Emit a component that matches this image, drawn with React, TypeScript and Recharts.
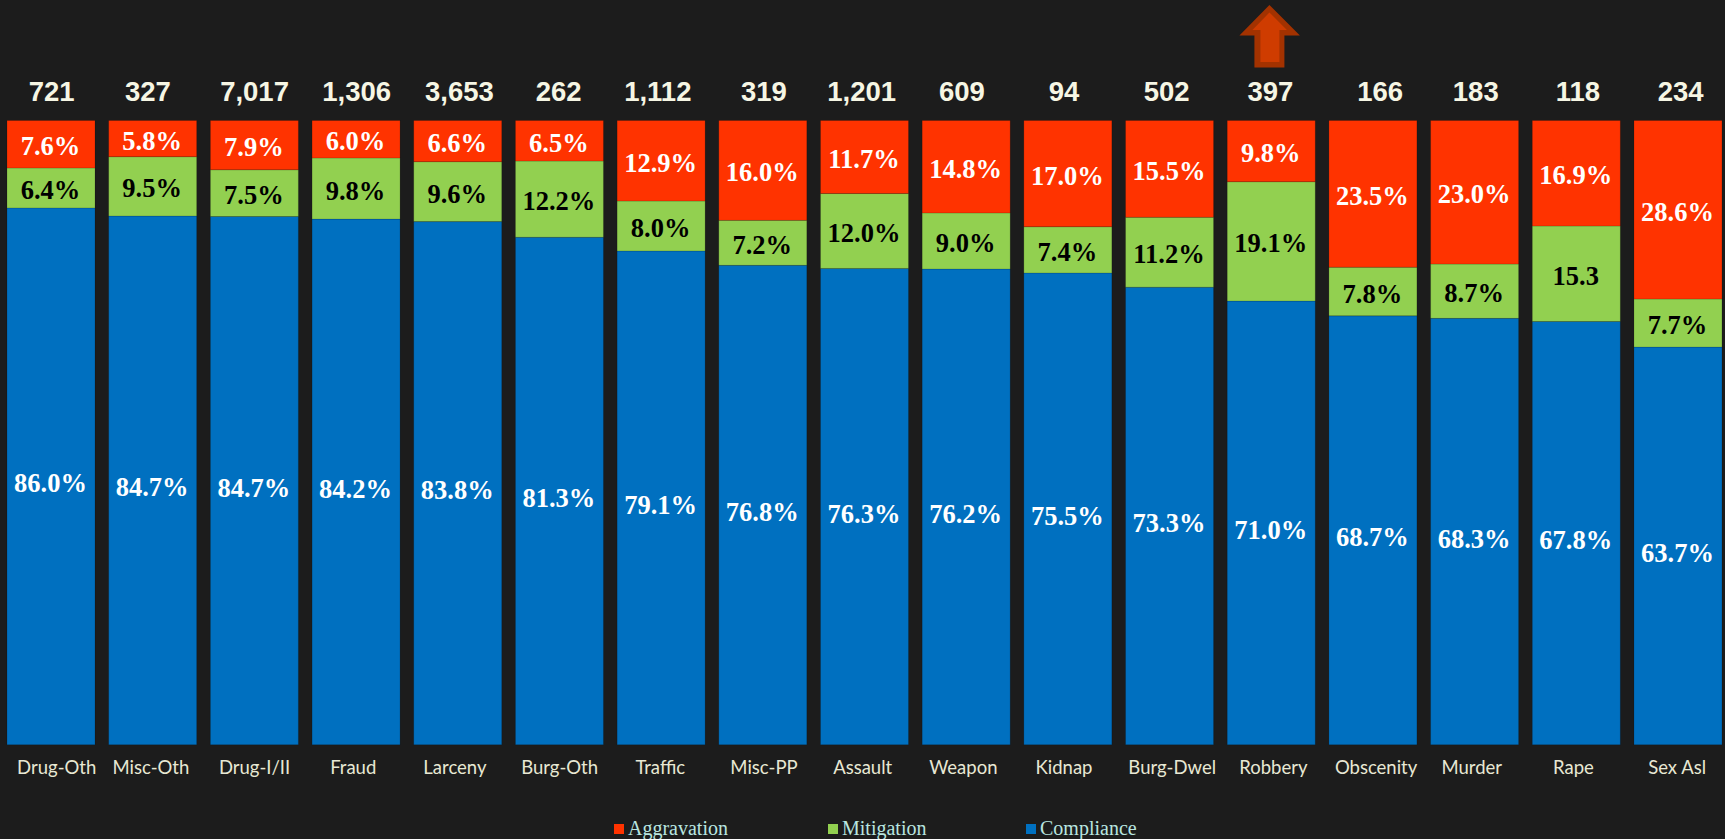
import { BarChart, Bar, XAxis, YAxis, LabelList, Legend, ReferenceDot } from "recharts";

const categories = ["Drug-Oth", "Misc-Oth", "Drug-I/II", "Fraud", "Larceny", "Burg-Oth", "Traffic", "Misc-PP", "Assault", "Weapon", "Kidnap", "Burg-Dwel", "Robbery", "Obscenity", "Murder", "Rape", "Sex Asl"];
const totals = [721, 327, 7017, 1306, 3653, 262, 1112, 319, 1201, 609, 94, 502, 397, 166, 183, 118, 234];
const compliance = [86.0, 84.7, 84.7, 84.2, 83.8, 81.3, 79.1, 76.8, 76.3, 76.2, 75.5, 73.3, 71.0, 68.7, 68.3, 67.8, 63.7];
const mitigation = [6.4, 9.5, 7.5, 9.8, 9.6, 12.2, 8.0, 7.2, 12.0, 9.0, 7.4, 11.2, 19.1, 7.8, 8.7, 15.3, 7.7];
const aggravation = [7.6, 5.8, 7.9, 6.0, 6.6, 6.5, 12.9, 16.0, 11.7, 14.8, 17.0, 15.5, 9.8, 23.5, 23.0, 16.9, 28.6];
// the Rape mitigation label has no percent sign in the original
const mitigationLabels = mitigation.map((v, i) => (categories[i] === "Rape" ? v.toFixed(1) : `${v.toFixed(1)}%`));
const legendOrder = ["Aggravation", "Mitigation", "Compliance"];
const legendLeft = [614, 828, 1026];
// the axis texts were hand placed in the original, so they sit a few px off the bar centres
const nameNudge = [5.5, -2, 0, -3, -3, 0, -1, 1, -2, -3, -4, 2.5, 2, 3, -3, -3, -1];
const totalNudge = [0.5, -5, 0, 0.5, 1.5, -1, -3.5, 1, -3, -4.5, -4, -3, -1, 7, 1, 1.5, 2.5];

const chartData = categories.map((name, i) => ({
  name,
  total: totals[i],
  compliance: compliance[i],
  mitigation: mitigation[i],
  aggravation: aggravation[i],
  mitigationLabel: mitigationLabels[i],
}));

const colors = { Aggravation: "#ff3300", Mitigation: "#92d050", Compliance: "#0070c0" };
const barEdge = "rgba(0,0,0,0.15)";
const pct = (v: number) => `${v.toFixed(1)}%`;

function barLabel(fill: string, shift: number, format?: (v: number) => string) {
  return (p: any) => (
    <text
      x={p.x + p.width / 2 - 0.5}
      y={p.y + p.height / 2 + shift + 9}
      textAnchor="middle"
      fill={fill}
      fontFamily="Liberation Serif"
      fontWeight={700}
      fontSize={26.5}
    >
      {format ? format(p.value) : p.value}
    </text>
  );
}

function NameTick({ x, y, payload, index }: any) {
  return (
    <text x={x + nameNudge[index]} y={y} textAnchor="middle" fontFamily="Lato" fontSize={18.5} fill="#e8e8d4">
      {payload.value}
    </text>
  );
}

function TotalTick({ x, y, payload, index }: any) {
  return (
    <text x={x + totalNudge[index]} y={y} textAnchor="middle" fontFamily="Liberation Sans" fontWeight={700} fontSize={27.5} fill="#f6f6e4">
      {Number(payload.value).toLocaleString("en-US")}
    </text>
  );
}

const toPath = (cx: number, cy: number, pts: number[][]) =>
  pts.map(([dx, dy], i) => `${i ? "L" : "M"}${cx + dx} ${cy + dy}`).join(" ") + " Z";

function UpArrow({ cx, cy }: any) {
  const outer = [[-2, -115.5], [28.5, -85], [13, -85], [13, -53], [-17, -53], [-17, -85], [-32, -85]];
  const inner = [[-2, -108], [15.5, -90.5], [8, -90.5], [8, -58.5], [-11, -58.5], [-11, -90.5], [-19, -90.5]];
  return (
    <g>
      <path d={toPath(cx, cy, outer)} fill="#a33200" />
      <path d={toPath(cx, cy, inner)} fill="#cf3c00" />
    </g>
  );
}

function ChartLegend() {
  return (
    <div style={{ position: "relative", height: 24 }}>
      {legendOrder.map((name, i) => (
        <div key={name} style={{ position: "absolute", left: legendLeft[i], top: 2, display: "flex", alignItems: "center", whiteSpace: "nowrap" }}>
          <span style={{ width: 10, height: 10, background: colors[name as keyof typeof colors], marginRight: 4 }} />
          <span style={{ fontFamily: "Liberation Serif", fontSize: 20, lineHeight: "23px", color: "#b9e6e0" }}>{name}</span>
        </div>
      ))}
    </div>
  );
}

export default function App() {
  return (
    <div style={{ position: "fixed", left: 0, top: 0, width: 1725, height: 839, overflow: "hidden", background: "#1c1c1c" }}>
      <BarChart
        width={1729}
        height={839}
        data={chartData}
        stackOffset="expand"
        barCategoryGap={6.67}
        margin={{ top: 70.5, right: 0, bottom: 10.3, left: 0.33 }}
      >
        <XAxis
          xAxisId="bottom"
          dataKey="name"
          interval={0}
          height={60}
          axisLine={false}
          tickLine={false}
          tickMargin={23}
          tick={<NameTick />}
        />
        <XAxis
          xAxisId="top"
          orientation="top"
          dataKey="total"
          interval={0}
          height={50}
          axisLine={false}
          tickLine={false}
          tickMargin={14}
          tick={<TotalTick />}
        />
        <YAxis hide domain={[0, 1]} />
        <Legend content={<ChartLegend />} verticalAlign="bottom" wrapperStyle={{ left: 0, bottom: 0, width: 1725 }} />
        <Bar xAxisId="bottom" dataKey="compliance" name="Compliance" stackId="a" fill={colors.Compliance} stroke={barEdge} isAnimationActive={false}>
          <LabelList dataKey="compliance" content={barLabel("#ffffff", 7, pct)} />
        </Bar>
        <Bar xAxisId="bottom" dataKey="mitigation" name="Mitigation" stackId="a" fill={colors.Mitigation} stroke={barEdge} isAnimationActive={false}>
          <LabelList dataKey="mitigationLabel" content={barLabel("#000000", 2)} />
        </Bar>
        <Bar xAxisId="bottom" dataKey="aggravation" name="Aggravation" stackId="a" fill={colors.Aggravation} stroke={barEdge} isAnimationActive={false}>
          <LabelList dataKey="aggravation" content={barLabel("#ffffff", 2, pct)} />
        </Bar>
        <ReferenceDot xAxisId="bottom" x="Robbery" y={1} ifOverflow="visible" shape={UpArrow} />
      </BarChart>
    </div>
  );
}
